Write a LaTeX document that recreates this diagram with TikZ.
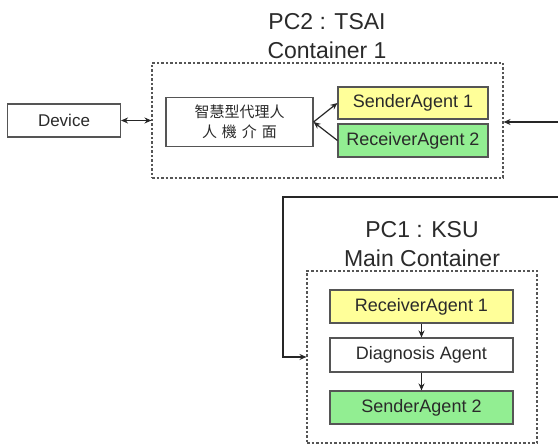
\documentclass[tikz,border=0pt]{standalone}
\usepackage{fontspec}
\setmainfont{Liberation Sans}
\newfontfamily\cjkfont{Noto Sans CJK TC}
\usetikzlibrary{arrows.meta}
\definecolor{boxyellow}{HTML}{FFFF99}
\definecolor{boxgreen}{HTML}{92EE92}
\definecolor{txtgray}{HTML}{2A2A2A}
\definecolor{linegray}{HTML}{555555}
\tikzset{
  agentbox/.style={draw=linegray, line width=1.1pt, inner sep=0pt, text=txtgray, font=\fontsize{18}{20}\selectfont},
  contbox/.style={draw=linegray, line width=1.1pt, dash pattern=on 2.5pt off 2pt, inner sep=0pt},
  titletext/.style={text=txtgray, font=\fontsize{23}{26}\selectfont, inner sep=0pt},
  conn/.style={draw=black!85, line width=1.2pt, -{Stealth[length=7pt,width=6pt]}},
  conn2/.style={draw=black!85, line width=1.2pt, {Stealth[length=7pt,width=6pt]}-{Stealth[length=7pt,width=6pt]}}
}
\begin{document}
\begin{tikzpicture}[x=1pt,y=-1pt]
\useasboundingbox (0,0) rectangle (558,446);
% containers
\node[contbox, minimum width=351pt, minimum height=115pt] (cont1) at (327.5,120.5) {};
\node[contbox, minimum width=230pt, minimum height=172pt] (cont2) at (422,357) {};
% titles
\node[titletext] (t1a) at (327,22) {PC2 : TSAI};
\node[titletext] (t1b) at (327,50) {Container 1};
\node[titletext] (t2a) at (422,230) {PC1 : KSU};
\node[titletext] (t2b) at (422,258) {Main Container};
% top boxes
\node[agentbox, minimum width=113pt, minimum height=33pt, font=\fontsize{17}{19}\selectfont] (dev) at (64,120.5) {Device};
\node[agentbox, minimum width=147pt, minimum height=49pt, align=center, font=\cjkfont\fontsize{15}{20}\selectfont] (hmi) at (239.5,122) {智慧型代理人\\人\hspace{5pt}機\hspace{5pt}介\hspace{5pt}面};
\node[agentbox, fill=boxyellow, minimum width=150pt, minimum height=32pt] (s1) at (413,103) {SenderAgent 1};
\node[agentbox, fill=boxgreen, minimum width=150pt, minimum height=33pt] (r2) at (413,140.5) {ReceiverAgent 2};
% bottom boxes
\node[agentbox, fill=boxyellow, minimum width=183pt, minimum height=33pt] (rc1) at (421.5,306.5) {ReceiverAgent 1};
\node[agentbox, minimum width=183pt, minimum height=34pt] (diag) at (421.5,355) {Diagnosis Agent};
\node[agentbox, fill=boxgreen, minimum width=183pt, minimum height=33pt] (s2) at (421.5,407.5) {SenderAgent 2};
% connectors
\draw[conn2] (dev.east) -- (dev.east -| cont1.west);
\draw[conn] (hmi.east) -- (s1.west);
\draw[conn] (r2.west) -- (hmi.east);
\coordinate (edge1) at (558,122);
\coordinate (edge2) at (558,197);
\coordinate (bend) at (283,197);
\draw[conn] (edge1) -- (edge1 -| cont1.east);
\draw[conn] (edge2) -- (bend) |- (cont2.west);
\draw[conn] (rc1.south) -- (diag.north);
\draw[conn] (diag.south) -- (s2.north);
\end{tikzpicture}
\end{document}
